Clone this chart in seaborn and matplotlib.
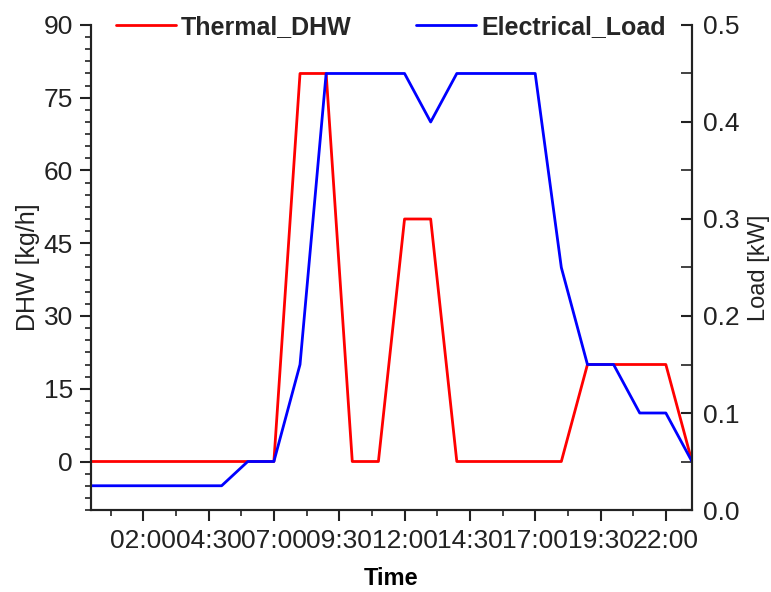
import numpy as np
import pandas as pd
import seaborn as sns
import matplotlib
matplotlib.use('Agg')
from matplotlib import pyplot as plt
from matplotlib.ticker import MultipleLocator, FuncFormatter

# hourly profile, 00:00 .. 23:00
hours = list(range(24))
thermal_dhw = [0, 0, 0, 0, 0, 0, 0, 0, 80, 80, 0, 0, 50, 50, 0, 0, 0, 0, 0, 20, 20, 20, 20, 0]
electrical_load = [0.025, 0.025, 0.025, 0.025, 0.025, 0.025, 0.05, 0.05, 0.15, 0.45, 0.45, 0.45,
                   0.45, 0.4, 0.45, 0.45, 0.45, 0.45, 0.25, 0.15, 0.15, 0.1, 0.1, 0.05]

df = pd.DataFrame({'hour': hours, 'Thermal_DHW': thermal_dhw, 'Electrical_Load': electrical_load})

sns.set_style('ticks')
plt.rcParams['font.family'] = ['Liberation Sans', 'DejaVu Sans']

ink = '#222222'

fig = plt.figure(figsize=(7.71, 5.92), dpi=100)
ax = fig.add_axes([0.118, 0.1385, 0.7795, 0.8193])
ax2 = ax.twinx()

sns.lineplot(data=df, x='hour', y='Thermal_DHW', ax=ax, color='red', lw=2, label='Thermal_DHW', legend=False)
sns.lineplot(data=df, x='hour', y='Electrical_Load', ax=ax2, color='blue', lw=2, label='Electrical_Load', legend=False)

ax.set_xlim(0, 23)
ax.set_ylim(-10, 90)
ax2.set_ylim(0, 0.5)

ax.xaxis.set_major_locator(MultipleLocator(2.5, offset=2))
ax.xaxis.set_minor_locator(MultipleLocator(2.5, offset=0.75))
ax.xaxis.set_major_formatter(FuncFormatter(lambda v, p: '%02d:%02d' % (int(v), round((v - int(v)) * 60))))
ax.yaxis.set_major_locator(MultipleLocator(15))
ax.yaxis.set_minor_locator(MultipleLocator(2.5))
ax2.yaxis.set_major_locator(MultipleLocator(0.1))
ax2.yaxis.set_minor_locator(MultipleLocator(0.05))
ax2.yaxis.set_major_formatter(FuncFormatter(lambda v, p: '%.1f' % v))

for a in (ax, ax2):
    a.spines['top'].set_visible(False)
    for s in a.spines.values():
        s.set_color(ink)
        s.set_linewidth(1.5)

fs = 19
ax.tick_params(axis='both', which='major', direction='out', length=8, width=1.5,
               colors=ink, labelsize=fs, pad=5)
ax.tick_params(axis='both', which='minor', direction='out', length=4, width=1.2, colors=ink)
ax.tick_params(axis='x', which='major', pad=6)
ax2.tick_params(axis='y', which='major', direction='in', length=8, width=1.5,
                colors=ink, labelsize=fs, pad=8)
ax2.tick_params(axis='y', which='minor', direction='in', length=8, width=1.2, colors=ink)

ax.set_xlabel('Time', fontsize=17, fontweight='bold', color='black')
ax.set_ylabel('DHW [kg/h]', fontsize=18, color=ink)
ax2.set_ylabel('Load [kW]', fontsize=17, color=ink)
ax.xaxis.set_label_coords(0.5, -0.118)
ax.yaxis.set_label_coords(-0.084, 0.5)
ax2.yaxis.set_label_coords(1.093, 0.5)

h1, l1 = ax.get_legend_handles_labels()
h2, l2 = ax2.get_legend_handles_labels()
fig.legend(h1 + h2, l1 + l2, loc='center', bbox_to_anchor=(0.507, 0.954), ncol=2,
           frameon=False, prop={'size': 18, 'weight': 'bold'},
           handlelength=2.4, handletextpad=0.2, columnspacing=2.6)

plt.savefig('out.png', dpi=100)
